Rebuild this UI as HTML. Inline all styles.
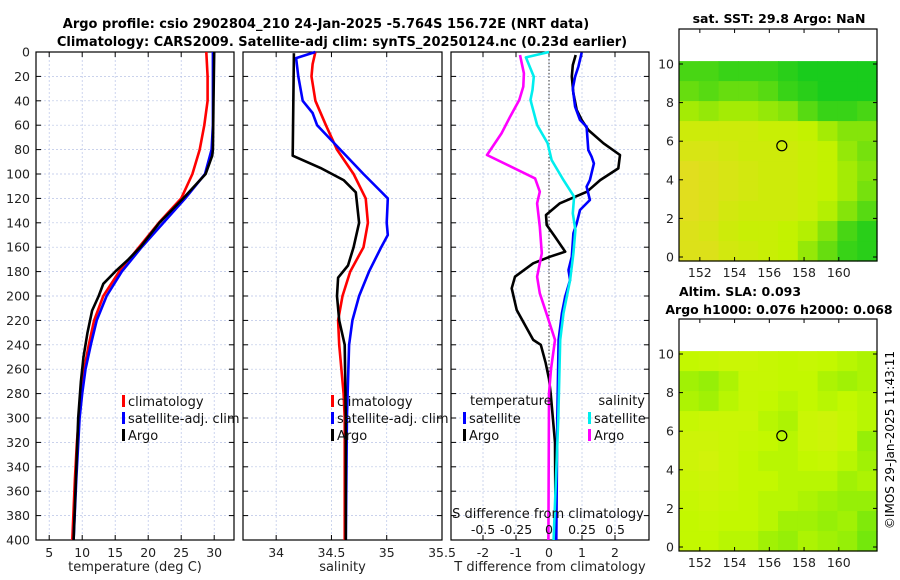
<!DOCTYPE html>
<html><head><meta charset="utf-8"><style>
html,body{margin:0;padding:0;background:#fff;}
svg{display:block;font-family:"DejaVu Sans","Liberation Sans",sans-serif;}
</style></head><body>
<svg id="fig" width="900" height="580" viewBox="0 0 900 580" xmlns="http://www.w3.org/2000/svg">
<text x="326" y="28" text-anchor="middle" font-size="13" font-weight="bold">Argo profile: csio 2902804_210 24-Jan-2025 -5.764S 156.72E (NRT data)</text>
<text x="342" y="46" text-anchor="middle" font-size="13" font-weight="bold">Climatology: CARS2009. Satellite-adj clim: synTS_20250124.nc (0.23d earlier)</text>
<text x="779" y="23" text-anchor="middle" font-size="12.5" font-weight="bold">sat. SST: 29.8 Argo: NaN</text>
<text x="740" y="296" text-anchor="middle" font-size="12.5" font-weight="bold">Altim. SLA: 0.093</text>
<text x="779" y="314" text-anchor="middle" font-size="12.5" font-weight="bold">Argo h1000: 0.076 h2000: 0.068</text>
<text x="0" y="0" transform="translate(894,440) rotate(-90)" text-anchor="middle" font-size="12">©IMOS 29-Jan-2025 11:43:11</text>
<g id="plots"></g>
</svg>
<script>
// ---------- data ----------
const tClimDepth=[0,20,40,60,80,100,120,140,160,180,200,220,240,260,280,300,320,350,400];
const tClimVal=[28.8,29.0,29.0,28.5,27.8,26.7,25.0,21.6,18.6,15.6,13.2,11.8,11.0,10.3,9.8,9.5,9.2,8.9,8.5];
const tSatDepth=[0,20,40,60,80,100,120,140,160,180,200,220,240,260,280,300,350,400];
const tSatVal=[29.8,29.8,29.8,29.8,29.6,28.6,25.6,22.3,19.0,16.0,13.7,12.2,11.3,10.5,10.0,9.6,9.1,8.7];
const tArgoDepth=[0,40,80,85,100,120,140,160,170,180,190,200,212,230,250,270,300,400];
const tArgoVal=[30.0,29.9,29.8,29.7,28.7,25.3,21.7,18.8,17.0,15.0,13.2,12.5,11.5,10.8,10.2,9.8,9.4,8.7];

const sClimDepth=[0,10,20,40,60,80,100,120,140,160,180,200,220,240,280,300,400];
const sClimVal=[34.355,34.33,34.32,34.355,34.45,34.55,34.70,34.81,34.83,34.79,34.67,34.60,34.56,34.57,34.61,34.62,34.62];
const sSatDepth=[0,5,20,40,50,60,80,100,120,140,150,160,180,200,220,240,300,400];
const sSatVal=[34.355,34.18,34.20,34.24,34.33,34.37,34.58,34.79,35.01,35.00,35.01,34.95,34.84,34.75,34.69,34.66,34.64,34.63];
const sArgoDepth=[1,85,95,105,115,140,160,175,185,200,220,240,300,400];
const sArgoVal=[34.16,34.15,34.40,34.61,34.72,34.75,34.70,34.65,34.56,34.55,34.57,34.62,34.63,34.63];

const dtArgoDepth=[2.5,10.7,20.2,33.9,47.5,55.7,63.9,74.8,84.4,95.4,105,114.5,124,133.6,141.8,151.4,163.7,167.8,173.2,184.2,193.7,211.5,236,240,255,268,280,320,400];
const dtArgoVal=[0.81,0.72,0.69,0.74,0.84,0.99,1.19,1.65,2.15,2.10,1.55,1.15,0.33,-0.09,-0.07,0.18,0.49,0.03,-0.48,-1.03,-1.13,-0.98,-0.48,-0.25,-0.1,0,0.05,0.18,0.2];
const dtSatDepth=[0.5,12,20.2,29.8,44.8,55.7,61.2,80.3,85.8,91.3,105,110.4,121.3,129.5,140.4,148.6,167.8,178.7,186.9,200.5,214.2,236,300,400];
const dtSatVal=[0.99,0.89,0.79,0.72,0.79,0.94,1.14,1.19,1.29,1.36,1.24,1.14,1.24,0.94,0.84,0.74,0.69,0.59,0.64,0.49,0.39,0.29,0.25,0.22];
const dsSatDepth=[0,4.4,20.2,31.1,39.3,59.8,74.9,88.5,105,118.6,132.2,145.9,165,186.9,214,236,300,400];
const dsSatVal=[0.0,-0.175,-0.115,-0.125,-0.14,-0.09,-0.01,0.02,0.11,0.19,0.18,0.2,0.185,0.16,0.11,0.085,0.07,0.035];
const dsArgoDepth=[2.5,17.5,28.4,39.3,53,66.7,84.4,103.6,114.5,124,143.2,165,184.2,197.8,214.2,236,260,280,400];
const dsArgoVal=[-0.22,-0.19,-0.195,-0.225,-0.295,-0.36,-0.47,-0.105,-0.07,-0.09,-0.07,-0.055,-0.09,-0.07,-0.02,0.045,0.015,0,-0.005];

const depthTicks=[0,20,40,60,80,100,120,140,160,180,200,220,240,260,280,300,320,340,360,380,400];
const tempTicks=[5,10,15,20,25,30];
const salTicks=[34,34.5,35,35.5];
const dTTicks=[-2,-1,0,1,2];
const dSTicks=[-0.5,-0.25,0,0.25,0.5];
const dSTickLabels=['-0.5','-0.25','0','0.25','0.5'];
const latTicks=[0,2,4,6,8,10];
const lonTicks=[152,154,156,158,160];

const sstGrid=[
[0.8,0.8,0.85,0.85,0.85,0.9,0.95,0.95,0.95,0.95],
[0.7,0.75,0.7,0.7,0.75,0.85,0.9,0.95,0.95,0.95],
[0.5,0.55,0.5,0.5,0.55,0.6,0.75,0.85,0.85,0.8],
[0.3,0.3,0.3,0.3,0.35,0.35,0.4,0.5,0.6,0.6],
[0.2,0.2,0.25,0.3,0.3,0.3,0.35,0.4,0.55,0.65],
[0.1,0.15,0.2,0.25,0.3,0.3,0.35,0.4,0.5,0.6],
[0.1,0.15,0.2,0.25,0.3,0.3,0.35,0.4,0.5,0.65],
[0.1,0.15,0.25,0.3,0.3,0.3,0.35,0.45,0.6,0.75],
[0.15,0.2,0.3,0.35,0.35,0.4,0.45,0.6,0.8,0.9],
[0.15,0.15,0.25,0.3,0.35,0.4,0.55,0.7,0.85,0.9]];
const slaGrid=[
[0.4,0.35,0.3,0.3,0.35,0.4,0.35,0.4,0.45,0.5],
[0.55,0.6,0.5,0.35,0.35,0.4,0.4,0.5,0.55,0.5],
[0.5,0.55,0.45,0.35,0.4,0.45,0.4,0.45,0.4,0.45],
[0.35,0.3,0.3,0.3,0.45,0.5,0.3,0.25,0.35,0.45],
[0.25,0.25,0.3,0.35,0.4,0.45,0.3,0.25,0.35,0.6],
[0.25,0.2,0.3,0.4,0.45,0.45,0.4,0.35,0.45,0.55],
[0.3,0.25,0.3,0.4,0.4,0.45,0.45,0.45,0.55,0.5],
[0.35,0.3,0.35,0.4,0.45,0.45,0.5,0.55,0.6,0.6],
[0.4,0.35,0.4,0.4,0.45,0.55,0.55,0.6,0.55,0.7],
[0.4,0.4,0.45,0.45,0.55,0.6,0.5,0.55,0.6,0.75]];
const argoLon=156.72, argoLat=5.764;

// ---------- helpers ----------
const NS='http://www.w3.org/2000/svg';
const root=document.getElementById('plots');
function mk(tag,attrs,parent){const e=document.createElementNS(NS,tag);for(const k in attrs)e.setAttribute(k,attrs[k]);(parent||root).appendChild(e);return e;}
const PT=52,PB=540;
const yD=d=>PT+(d/400)*(PB-PT);

function panel(name,x0,x1,dmin,dmax,ticks,labels,showDepth,xlabel){
  const g=mk('g',{});
  
  
  const sx=v=>x0+(v-dmin)/(dmax-dmin)*(x1-x0);
  ticks.forEach(t=>{const x=sx(t);if(x>x0+1&&x<x1-1){const l=mk('line',{x1:x,x2:x,y1:PT,y2:PB,stroke:'#b8c4e6','stroke-width':0.7,'stroke-dasharray':'2,2'},g);}});
  depthTicks.forEach(d=>{const y=yD(d);if(d>0&&d<400){const l=mk('line',{x1:x0,x2:x1,y1:y,y2:y,stroke:'#b8c4e6','stroke-width':0.7,'stroke-dasharray':'2,2'},g);}
    mk('line',{x1:x0,x2:x0+5,y1:y,y2:y,stroke:'#000'},g);mk('line',{x1:x1-5,x2:x1,y1:y,y2:y,stroke:'#000'},g);
    if(showDepth){const t=mk('text',{x:x0-6,y:y+4.5,'text-anchor':'end','font-size':12.5,fill:'#222'},g);t.textContent=d;}});
  ticks.forEach((t,i)=>{const x=sx(t);mk('line',{x1:x,x2:x,y1:PT,y2:PT+5,stroke:'#000'},g);mk('line',{x1:x,x2:x,y1:PB-5,y2:PB,stroke:'#000'},g);
    const tx=mk('text',{x:x,y:PB+17,'text-anchor':'middle','font-size':12.5,fill:'#222'},g);tx.textContent=labels?labels[i]:t;
    });
  const r=mk('rect',{x:x0,y:PT,width:x1-x0,height:PB-PT,fill:'none',stroke:'#000','stroke-width':1.2},g);
  
  const xl=mk('text',{x:(x0+x1)/2,y:PB+31,'text-anchor':'middle','font-size':13,fill:'#222'},g);xl.textContent=xlabel;
  
  return {g,sx};
}
function line(p,depths,vals,color,name,scale){
  const pts=depths.map((d,i)=>p.sx(vals[i]*(scale||1)).toFixed(1)+','+yD(d).toFixed(1)).join(' ');
  const pl=mk('polyline',{points:pts,fill:'none',stroke:color,'stroke-width':2.6,'stroke-linejoin':'round'},p.g);
  
  
}
function legend(g,x,y,color,label,name){
  const lg=mk('g',{},g);
  
  
  mk('rect',{x:x,y:y-10,width:3,height:12,fill:color},lg);
  const t=mk('text',{x:x+6,y:y+1,'font-size':13,fill:'#111'},lg);t.textContent=label;
}

const p1=panel('temperature-panel',36,234,3,33,tempTicks,null,true,'temperature (deg C)');
line(p1,tClimDepth,tClimVal,'#f00','temp-climatology-line');
line(p1,tSatDepth,tSatVal,'#00f','temp-satellite-line');
line(p1,tArgoDepth,tArgoVal,'#000','temp-argo-line');
legend(p1.g,122,405,'#f00','climatology','legend-climatology');
legend(p1.g,122,422,'#00f','satellite-adj. clim','legend-satellite');
legend(p1.g,122,439,'#000','Argo','legend-argo');

const p2=panel('salinity-panel',243,442,33.7,35.5,salTicks,null,false,'salinity');
line(p2,sClimDepth,sClimVal,'#f00','sal-climatology-line');
line(p2,sSatDepth,sSatVal,'#00f','sal-satellite-line');
line(p2,sArgoDepth,sArgoVal,'#000','sal-argo-line');
legend(p2.g,331,405,'#f00','climatology','legend-climatology');
legend(p2.g,331,422,'#00f','satellite-adj. clim','legend-satellite');
legend(p2.g,331,439,'#000','Argo','legend-argo');

const p3=panel('difference-panel',451,649,-2.97,3.03,dTTicks,null,false,'T difference from climatology');
const zl=mk('line',{x1:p3.sx(0),x2:p3.sx(0),y1:PT,y2:PB,stroke:'#333','stroke-width':1,'stroke-dasharray':'1.5,2'},p3.g);

line(p3,dtArgoDepth,dtArgoVal,'#000','dT-argo-line');
line(p3,dtSatDepth,dtSatVal,'#00f','dT-satellite-line');
line(p3,dsSatDepth,dsSatVal,'#0ee','dS-satellite-line',4);
line(p3,dsArgoDepth,dsArgoVal,'#f0f','dS-argo-line',4);
{const t=mk('text',{x:470,y:405,'font-size':13,fill:'#111'},p3.g);t.textContent='temperature';
 const s=mk('text',{x:645,y:405,'text-anchor':'end','font-size':13,fill:'#111'},p3.g);s.textContent='salinity';}
legend(p3.g,463,422,'#00f','satellite','legend-temp-satellite');
legend(p3.g,463,439,'#000','Argo','legend-temp-argo');
legend(p3.g,588,422,'#0ee','satellite','legend-sal-satellite');
legend(p3.g,588,439,'#f0f','Argo','legend-sal-argo');
{const t=mk('text',{x:548,y:518,'text-anchor':'middle','font-size':13,fill:'#111'},p3.g);t.textContent='S difference from climatology';
 dSTicks.forEach((v,i)=>{const l=mk('text',{x:p3.sx(v*4),y:534,'text-anchor':'middle','font-size':12.5,fill:'#111'},p3.g);l.textContent=dSTickLabels[i];});}

function makeCol(a,b,c){
  return function(v){
    let r;if(v<0.4){const t=v/0.4;r=a.map((x,i)=>x+(b[i]-x)*t);}else{const t=(v-0.4)/0.6;r=b.map((x,i)=>x+(c[i]-x)*t);}
    return 'rgb('+r.map(Math.round).join(',')+')';
  };
}
const sstCol=makeCol([235,215,40],[195,242,0],[10,200,30]);
const slaCol=makeCol([222,238,20],[195,248,0],[60,220,20]);
function map(name,top,grid,col){
  const g=mk('g',{});
  
  
  const L=679,R=877,B=top+232;
  const lonMin=150.8,lonMax=162.2;
  const sx=v=>L+(v-lonMin)/(lonMax-lonMin)*(R-L);
  const sy=v=>top+35-(v-10)*19.3;
  const dataTop=sy(10.15), dataBot=B;
  const rows=grid.length, cols=grid[0].length;
  const cw=(R-L)/cols, ch=(dataBot-dataTop)/rows;
  grid.forEach((row,ri)=>row.forEach((v,ci)=>{
    const c=mk('rect',{x:(L+ci*cw).toFixed(2),y:(dataTop+ri*ch).toFixed(2),width:(cw+0.6).toFixed(2),height:(ch+0.6).toFixed(2),fill:col(v)},g);
    
    
  }));
  latTicks.forEach(t=>{const y=sy(t);mk('line',{x1:L,x2:L+4,y1:y,y2:y,stroke:'#000'},g);mk('line',{x1:R-4,x2:R,y1:y,y2:y,stroke:'#000'},g);
    const tx=mk('text',{x:L-5,y:y+4.5,'text-anchor':'end','font-size':12.5,fill:'#222'},g);tx.textContent=t;});
  lonTicks.forEach(t=>{const x=sx(t);mk('line',{x1:x,x2:x,y1:top,y2:top+4,stroke:'#000'},g);mk('line',{x1:x,x2:x,y1:B-4,y2:B,stroke:'#000'},g);
    const tx=mk('text',{x:x,y:B+16,'text-anchor':'middle','font-size':12.5,fill:'#222'},g);tx.textContent=t;});
  const ci=mk('circle',{cx:sx(argoLon),cy:sy(argoLat),r:5,fill:'none',stroke:'#000','stroke-width':1.2},g);
  
  const fr=mk('rect',{x:L,y:top,width:R-L,height:B-top,fill:'none',stroke:'#000','stroke-width':1.2},g);
  
}
map('sst-map',29,sstGrid,sstCol);
map('sla-map',319,slaGrid,slaCol);
</script>
</body></html>
